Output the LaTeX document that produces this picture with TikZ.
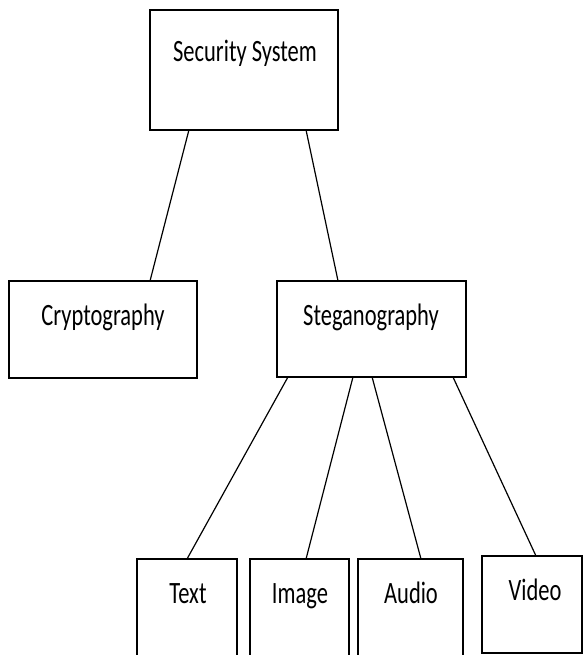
\documentclass[tikz,border=0pt]{standalone}
\usepackage{fontspec}
\usepackage{graphicx}
\setmainfont{Carlito}
\usetikzlibrary{calc}
\newcommand\vstretch[1]{\scalebox{1}[1.38]{#1}}
\tikzset{
  box/.style={draw=black, line width=1.2pt, rectangle, inner sep=0pt, outer sep=0pt},
  lbl/.style={anchor=base, inner sep=0pt, font=\fontsize{22.5pt}{27pt}\selectfont},
  conn/.style={draw=black, line width=1.2pt}
}
\begin{document}
\begin{tikzpicture}[x=1pt,y=-1pt]
\clip (0,0) rectangle (584,655);
\fill[white] (0,0) rectangle (584,655);
% boxes
\node[box, minimum width=188pt, minimum height=120pt] (ss) at (244,70) {};
\node[box, minimum width=188pt, minimum height=97pt] (cr) at (103,329.5) {};
\node[box, minimum width=189pt, minimum height=96pt] (st) at (371.5,329) {};
\node[box, minimum width=100pt, minimum height=106pt] (tx) at (187,612) {};
\node[box, minimum width=99pt, minimum height=106pt] (im) at (299.5,612) {};
\node[box, minimum width=105pt, minimum height=106pt] (au) at (410.5,612) {};
\node[box, minimum width=100pt, minimum height=97pt] (vi) at (532,604.5) {};
% texts
\node[lbl] (ssT) at (245,62) {\vstretch{Security System}};
\node[lbl] (crT) at (103,325) {\vstretch{Cryptography}};
\node[lbl] (stT) at (371,325) {\vstretch{Steganography}};
\node[lbl] (txT) at (188,603) {\vstretch{Text}};
\node[lbl] (imT) at (300,603) {\vstretch{Image}};
\node[lbl] (auT) at (411,603) {\vstretch{Audio}};
\node[lbl] (viT) at (535,600) {\vstretch{Video}};
% connectors
\draw[conn] ($(ss.south west)!0.207!(ss.south east)$) -- ($(cr.north west)!0.75!(cr.north east)$);
\draw[conn] ($(ss.south west)!0.83!(ss.south east)$) -- ($(st.north west)!0.323!(st.north east)$);
\draw[conn] ($(st.south west)!0.058!(st.south east)$) -- ($(tx.north west)!0.5!(tx.north east)$);
\draw[conn] ($(st.south west)!0.402!(st.south east)$) -- ($(im.north west)!0.566!(im.north east)$);
\draw[conn] ($(st.south west)!0.503!(st.south east)$) -- ($(au.north west)!0.6!(au.north east)$);
\draw[conn] ($(st.south west)!0.931!(st.south east)$) -- ($(vi.north west)!0.54!(vi.north east)$);
\end{tikzpicture}
\end{document}
